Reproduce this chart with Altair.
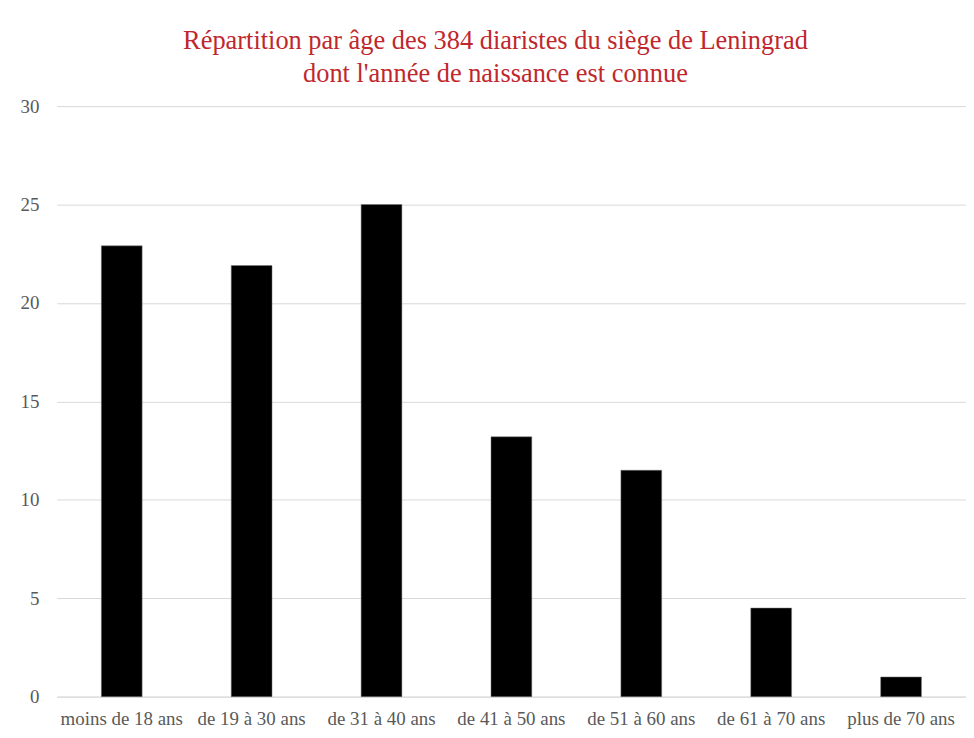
import altair as alt
import pandas as pd

categories = ["moins de 18 ans", "de 19 à 30 ans", "de 31 à 40 ans", "de 41 à 50 ans",
              "de 51 à 60 ans", "de 61 à 70 ans", "plus de 70 ans"]
values = [22.9, 21.9, 25.0, 13.2, 11.5, 4.5, 1.0]

df = pd.DataFrame({"cat": categories, "val": values})

serif = "Liberation Serif"

chart = alt.Chart(df).mark_bar(color="black", stroke="#777777", strokeWidth=0.5).encode(
    x=alt.X("cat:N", sort=categories, title=None,
            scale=alt.Scale(paddingInner=0.686, paddingOuter=0.343),
            axis=alt.Axis(labelAngle=0, labelFont=serif, labelFontSize=19, labelColor="#595959",
                          ticks=False, domain=True, domainColor="#d9d9d9", labelPadding=13,
                          grid=False)),
    y=alt.Y("val:Q", title=None,
            scale=alt.Scale(domain=[0, 30]),
            axis=alt.Axis(values=[0, 5, 10, 15, 20, 25, 30], labelFont=serif, labelFontSize=19,
                          labelColor="#595959", ticks=False, domain=False, gridColor="#d9d9d9",
                          labelPadding=18)),
).properties(
    width=913,
    height=593,
    padding={"left": 12, "top": 18, "right": 0, "bottom": 0},
    title=alt.TitleParams(
        text=["Répartition par âge des 384 diaristes du siège de Leningrad",
              "dont l'année de naissance est connue"],
        font=serif, fontSize=26.5, fontWeight="normal", color="#C0272D",
        lineHeight=33, anchor="middle", offset=10, dx=-16,
    ),
).configure_view(stroke=None)

chart.save("out.html", embed_options={"renderer": "svg", "actions": False})
